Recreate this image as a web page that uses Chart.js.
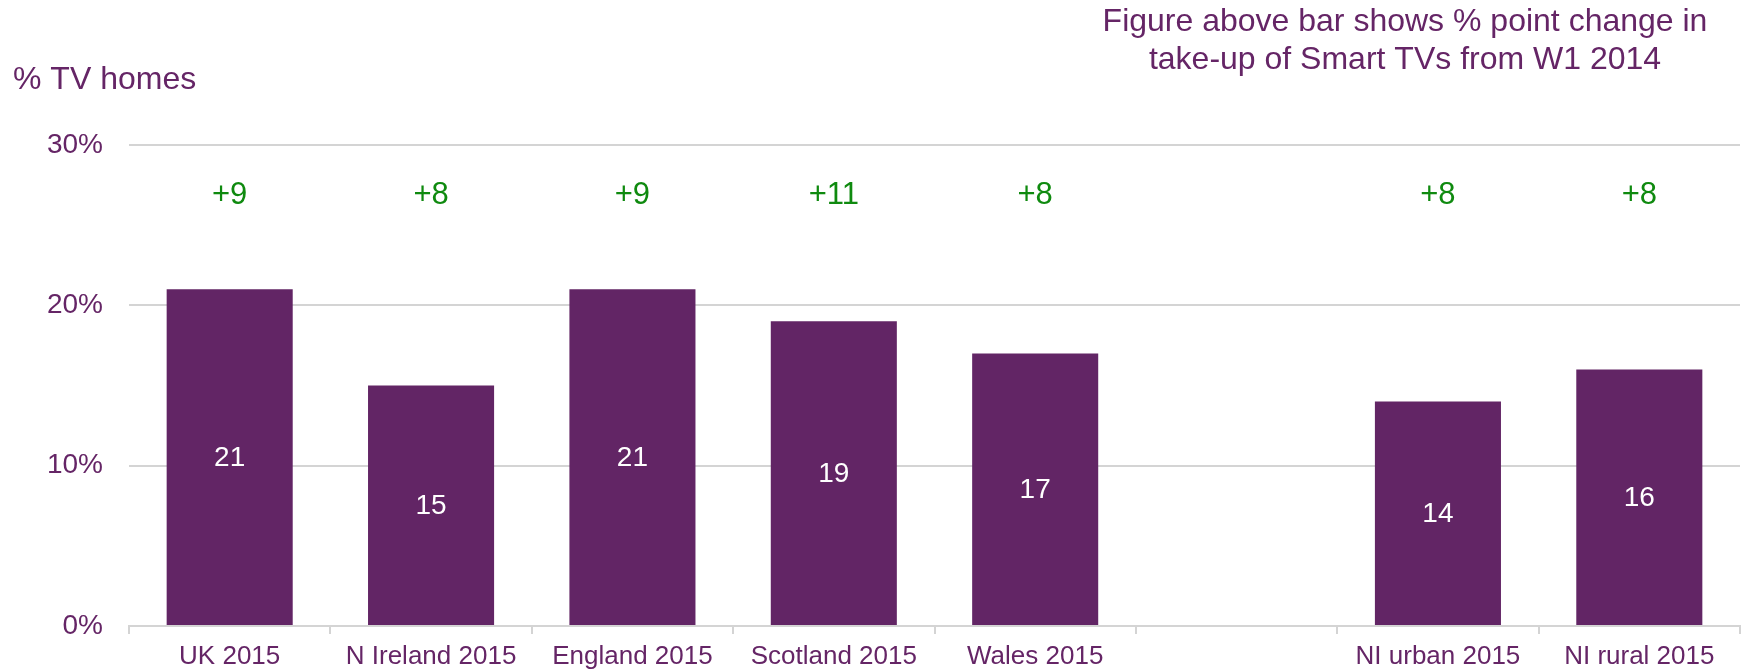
<!DOCTYPE html>
<html>
<head>
<meta charset="utf-8">
<script src="https://cdn.jsdelivr.net/npm/chart.js@4/dist/chart.umd.min.js"></script>
<style>
  html, body { margin: 0; padding: 0; background: #ffffff; }
  #wrap { width: 1747px; height: 671px; position: relative; }
</style>
</head>
<body>
<div id="wrap"><canvas id="c" width="1747" height="671"></canvas></div>
<script>
// ---- Data ----
const categories = ["UK 2015", "N Ireland 2015", "England 2015", "Scotland 2015", "Wales 2015", "", "NI urban 2015", "NI rural 2015"];
const smartTvShare = [21, 15, 21, 19, 17, null, 14, 16];
const changeFromW1_2014 = ["+9", "+8", "+9", "+11", "+8", "", "+8", "+8"];
const yTickValues = [0, 10, 20, 30];
const yAxisTitle = "% TV homes";
const noteLines = ["Figure above bar shows % point change in", "take-up of Smart TVs from W1 2014"];

// ---- Styles ----
const FONT = '"Liberation Sans", Arial, Helvetica, sans-serif';
const PURPLE_BAR = '#622565';
const PURPLE_TEXT = '#652566';
const GREEN = '#0f8a0f';
const GRID = '#d4d4d4';

const annotations = {
  id: 'annotations',
  afterDatasetsDraw(chart) {
    const ctx = chart.ctx;
    const meta = chart.getDatasetMeta(0);
    const y = chart.scales.y;
    ctx.save();
    ctx.textAlign = 'center';
    ctx.textBaseline = 'middle';
    meta.data.forEach((bar, i) => {
      const v = smartTvShare[i];
      if (v === null || v === undefined) return;
      // value inside the bar (centered)
      ctx.fillStyle = '#ffffff';
      ctx.font = '28px ' + FONT;
      const mid = (bar.y + bar.base) / 2;
      ctx.fillText(String(v), bar.x, mid + 1);
      // change above bar at fixed level
      ctx.fillStyle = GREEN;
      ctx.font = '31px ' + FONT;
      ctx.fillText(changeFromW1_2014[i], bar.x, y.getPixelForValue(26.9) + 1);
    });
    // y-axis title
    ctx.fillStyle = PURPLE_TEXT;
    ctx.font = '32px ' + FONT;
    ctx.textAlign = 'left';
    ctx.fillText(yAxisTitle, 13, 80);
    // note (top right)
    ctx.textAlign = 'center';
    ctx.fillText(noteLines[0], 1405, 22);
    ctx.fillText(noteLines[1], 1405, 60);
    ctx.restore();
  }
};

new Chart(document.getElementById('c'), {
  type: 'bar',
  data: {
    labels: categories,
    datasets: [{
      data: smartTvShare,
      backgroundColor: PURPLE_BAR,
      borderWidth: 0,
      categoryPercentage: 1.0,
      barPercentage: 0.626
    }]
  },
  options: {
    responsive: false,
    animation: false,
    events: [],
    layout: { padding: { top: 145, right: 7, bottom: 0, left: 0 } },
    plugins: {
      legend: { display: false },
      tooltip: { enabled: false },
      title: { display: false }
    },
    scales: {
      x: {
        offset: true,
        grid: {
          offset: true,
          drawOnChartArea: false,
          drawTicks: true,
          tickLength: 8,
          color: GRID,
          lineWidth: 2
        },
        border: { display: true, color: GRID, width: 2 },
        ticks: {
          color: PURPLE_TEXT,
          font: { family: FONT, size: 26 },
          padding: 7,
          maxRotation: 0,
          autoSkip: false
        },
        afterFit(s) { s.height = 45; }
      },
      y: {
        min: 0,
        max: 30,
        afterBuildTicks(s) { s.ticks = yTickValues.map(v => ({ value: v })); },
        grid: { color: GRID, lineWidth: 2, drawTicks: false },
        border: { display: false },
        ticks: {
          color: PURPLE_TEXT,
          font: { family: FONT, size: 28 },
          padding: 26,
          callback: v => v + '%'
        },
        afterFit(s) { s.width = 129; }
      }
    }
  },
  plugins: [annotations]
});
</script>
</body>
</html>
